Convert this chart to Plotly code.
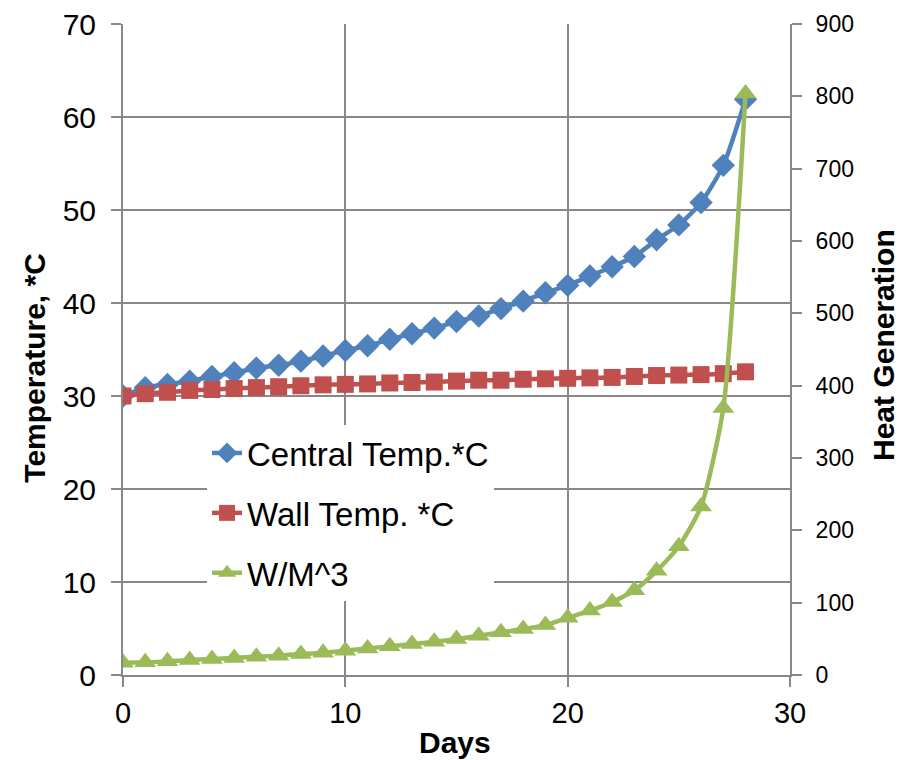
import plotly.graph_objects as go

days = list(range(29))
central_temp = [30.0, 30.9, 31.25, 31.6, 32.1, 32.5, 33.0, 33.3, 33.75, 34.3, 34.9,
                35.4, 36.1, 36.7, 37.3, 38.0, 38.6, 39.4, 40.2, 41.1, 41.9,
                42.9, 43.9, 45.0, 46.8, 48.4, 50.8, 54.8, 61.9]
wall_temp = [30.0, 30.25, 30.4, 30.6, 30.7, 30.8, 30.9, 31.0, 31.1, 31.2, 31.25,
             31.3, 31.4, 31.45, 31.5, 31.6, 31.7, 31.7, 31.8, 31.85, 31.9,
             31.95, 32.0, 32.1, 32.2, 32.25, 32.3, 32.4, 32.6]
heat_gen = [17, 17.5, 19, 20.7, 22, 23.5, 25.3, 26.7, 29, 30.8, 33.6,
            36.8, 39.6, 42.8, 46, 49.7, 54.3, 59, 63.5, 69, 79,
            89, 101, 117, 144, 178, 233, 369, 804]

names = ["Central Temp.*C", "Wall Temp. *C", "W/M^3"]
colors = ["#4F81BD", "#C0504D", "#9BBB59"]

fig = go.Figure()
fig.add_trace(go.Scatter(x=days, y=central_temp, name=names[0], mode="lines+markers",
                         line=dict(color=colors[0], width=4.5, shape="spline", smoothing=0.6),
                         marker=dict(symbol="diamond", size=18, color=colors[0]),
                         legendgroup="a"))
fig.add_trace(go.Scatter(x=days, y=wall_temp, name=names[1], mode="lines+markers",
                         line=dict(color=colors[1], width=4.5, shape="spline", smoothing=0.6),
                         marker=dict(symbol="square", size=17, color=colors[1]),
                         legendgroup="b"))
fig.add_trace(go.Scatter(x=days, y=heat_gen, name=names[2], mode="lines+markers", yaxis="y2",
                         line=dict(color=colors[2], width=4.5, shape="spline", smoothing=0.6),
                         marker=dict(symbol="triangle-up", size=19, color=colors[2]),
                         legendgroup="c"))

grid = "#888888"
title_font = dict(size=30, family="Liberation Sans, Arial, sans-serif", color="black")
fig.update_layout(
    width=900, height=752,
    margin=dict(l=115, r=118, t=16, b=85),
    paper_bgcolor="white", plot_bgcolor="white",
    font=dict(family="Liberation Sans, Arial, sans-serif", color="black"),
    xaxis=dict(range=[0, 30], dtick=10, showgrid=True, gridcolor=grid, gridwidth=1.5,
               showline=True, linecolor=grid, linewidth=2, zeroline=False,
               ticks="outside", ticklen=10, tickcolor=grid, tickwidth=1.5,
               tickfont=dict(size=29), ticklabelstandoff=1, automargin=False,
               ticklabeloverflow="allow"),
    yaxis=dict(range=[0, 70], dtick=10, showgrid=True, gridcolor=grid, gridwidth=1.5,
               showline=True, linecolor=grid, linewidth=2, zeroline=False,
               ticks="outside", ticklen=10, tickcolor=grid, tickwidth=1.5,
               tickfont=dict(size=30), ticklabelstandoff=9, automargin=False,
               ticklabeloverflow="allow"),
    yaxis2=dict(range=[0, 900], dtick=100, overlaying="y", side="right", showgrid=False,
                showline=True, linecolor=grid, linewidth=2, zeroline=False,
                ticks="outside", ticklen=10, tickcolor=grid, tickwidth=1.5,
                tickfont=dict(size=23), ticklabelstandoff=9, automargin=False,
                ticklabeloverflow="allow"),
    legend=dict(x=0.126, y=0.384, xanchor="left", yanchor="top", bgcolor="white",
                font=dict(size=33), traceorder="grouped", tracegroupgap=14),
    showlegend=True,
    shapes=[dict(type="rect", xref="paper", yref="paper", x0=0.024, x1=0.622,
                 y0=0.111, y1=0.387, fillcolor="white", line=dict(width=0), layer="between")],
    annotations=[
        dict(text="<b>Days</b>", xref="paper", yref="paper", x=0.498, y=-0.103,
             showarrow=False, font=title_font, xanchor="center", yanchor="middle"),
        dict(text="<b>Temperature, *C</b>", xref="paper", yref="paper", x=-0.132, y=0.472,
             showarrow=False, font=title_font, textangle=-90, xanchor="center", yanchor="middle"),
        dict(text="<b>Heat Generation</b>", xref="paper", yref="paper", x=1.141, y=0.507,
             showarrow=False, font=title_font, textangle=-90, xanchor="center", yanchor="middle"),
    ],
)

fig.write_html("out.html")
